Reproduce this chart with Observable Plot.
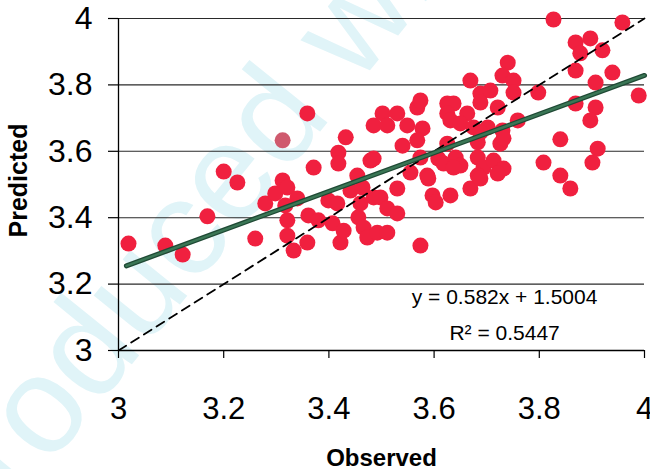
<!DOCTYPE html>
<html><head><meta charset="utf-8">
<script src="https://cdn.jsdelivr.net/npm/d3@7"></script>
<script src="https://cdn.jsdelivr.net/npm/@observablehq/plot@0.6"></script>
<style>
html,body{margin:0;padding:0;background:#fff;}
#wrap{position:relative;width:650px;height:469px;overflow:hidden;background:#fff;}
#wm,#chart{position:absolute;left:0;top:0;}
</style></head><body>
<div id="wrap">
<svg id="wm" width="650" height="469"><text transform="translate(-140,700) rotate(-51)" font-size="138" fill="#e0f4f8" font-family="'Liberation Sans', Arial, sans-serif">Reproduced with permission</text></svg>
<div id="chart"></div>
</div>
<script>
const observed = [3.019,3.089,3.122,3.169,3.200,3.226,3.260,3.279,3.298,3.312,
3.312,3.321,3.321,3.321,3.333,3.340,3.317,3.359,3.359,3.361,
3.371,3.380,3.399,3.407,3.416,3.418,3.418,3.422,3.428,3.432,
3.441,3.454,3.456,3.460,3.464,3.466,3.473,3.479,3.485,3.485,3.492,
3.502,3.530,3.511,3.549,3.568,3.574,3.578,3.540,3.568,3.625,
3.637,3.625,3.663,3.631,3.650,3.675,3.669,3.688,3.707,3.688,
3.721,3.702,3.688,3.730,3.625,3.683,3.726,3.485,3.574,3.608,
3.618,3.641,3.650,3.683,3.694,3.713,3.732,3.637,3.555,3.587,
3.683,3.597,3.603,3.631,3.669,3.688,3.721,3.498,3.511,3.530,
3.511,3.574,3.530,3.589,
3.827,3.958,3.869,3.897,3.920,3.878,3.740,3.730,3.869,3.939,
3.751,3.907,3.751,3.798,3.989,3.869,3.907,3.897,3.759,
3.840,3.911,3.901,3.808,3.840,3.859,3.732];
const predicted = [3.322,3.316,3.289,3.404,3.539,3.506,3.337,3.443,3.473,3.512,
3.633,3.491,3.392,3.346,3.301,3.458,3.437,3.714,3.325,3.407,
3.551,3.392,3.452,3.383,3.443,3.596,3.563,3.325,3.361,3.642,
3.482,3.527,3.401,3.443,3.491,3.370,3.340,3.572,3.678,3.461,3.355,
3.714,3.714,3.678,3.678,3.732,3.753,3.669,3.617,3.633,3.744,
3.744,3.714,3.714,3.693,3.684,3.672,3.813,3.774,3.783,3.747,
3.732,3.672,3.657,3.663,3.623,3.627,3.623,3.578,3.581,3.578,
3.563,3.581,3.557,3.581,3.551,3.572,3.548,3.551,3.536,3.527,
3.527,3.467,3.446,3.467,3.488,3.518,3.533,3.461,3.428,3.413,
3.355,3.316,3.488,3.518,
3.997,3.988,3.928,3.940,3.904,3.895,3.867,3.828,3.843,3.837,
3.813,3.807,3.777,3.777,3.768,3.744,3.732,3.693,3.693,
3.636,3.608,3.566,3.566,3.527,3.488,3.639];
const mutedIndex = [10];
const axisTicks = [3, 3.2, 3.4, 3.6, 3.8, 4];
const tickLabels = ["3", "3.2", "3.4", "3.6", "3.8", "4"];
const gridTicks = [3.2, 3.4, 3.6, 3.8, 4];
const identityEnds = [3, 4];
const fitSlope = 0.582;
const fitIntercept = 1.5004;
const fitRange = [3.015, 4.0];
const equationText = ["y = 0.582x + 1.5004"];
const r2Text = ["R² = 0.5447"];
const xTitle = ["Observed"];
const yTitle = ["Predicted"];

const pts = observed.map((x, i) => ({x, y: predicted[i], muted: mutedIndex.includes(i)}));
const fit = fitRange.map(x => ({x, y: fitSlope * x + fitIntercept}));
const ident = identityEnds.map(v => ({x: v, y: v}));
const fmt = d => tickLabels[axisTicks.indexOf(d)];
const FONT = "'Liberation Sans', Arial, Helvetica, sans-serif";

const chart = Plot.plot({
  width: 650, height: 469,
  marginLeft: 118, marginRight: 6, marginTop: 18, marginBottom: 119,
  style: {fontFamily: FONT, color: "#000", background: "transparent", overflow: "visible"},
  x: {domain: [3, 4]},
  y: {domain: [3, 4]},
  marks: [
    Plot.gridY(gridTicks, {stroke: "#2a2a2a", strokeOpacity: 1, strokeWidth: 1.1}),
    Plot.axisY(axisTicks, {tickSize: 10, tickPadding: 16, fontSize: 32, tickFormat: fmt, label: null, strokeWidth: 1.2}),
    Plot.axisX(axisTicks, {tickSize: 8, tickPadding: 38, fontSize: 31, tickFormat: fmt, label: null, strokeWidth: 1.2}),
    Plot.ruleX([3], {stroke: "#000", strokeWidth: 1.3}),
    Plot.ruleY([3], {stroke: "#000", strokeWidth: 1.3}),
    Plot.dot(pts.filter(d => !d.muted), {x: "x", y: "y", r: 8, fill: "#f0203f", stroke: null}),
    Plot.dot(pts.filter(d => d.muted), {x: "x", y: "y", r: 8, fill: "#cf5a6e", stroke: null}),
    Plot.line(ident, {x: "x", y: "y", stroke: "#000", strokeWidth: 1.8, strokeDasharray: "9,6"}),
    Plot.line(fit, {x: "x", y: "y", stroke: "#1f4a35", strokeWidth: 5, strokeLinecap: "round"}),
    Plot.line(fit, {x: "x", y: "y", stroke: "#3a7655", strokeWidth: 2.4, strokeLinecap: "round"}),
    Plot.text(equationText, {x: 3.734, y: 3.139, lineAnchor: "bottom", fontSize: 21, fill: "#000"}),
    Plot.text(r2Text, {x: 3.734, y: 3.033, lineAnchor: "bottom", fontSize: 21, fill: "#000"}),
    Plot.text(xTitle, {frameAnchor: "bottom", dy: 115, lineAnchor: "bottom", fontWeight: "bold", fontSize: 24, fill: "#000"}),
    Plot.text(yTitle, {x: 2.81, y: 3.512, rotate: -90, textAnchor: "middle", lineAnchor: "middle", fontWeight: "bold", fontSize: 25, fill: "#000"})
  ]
});
document.getElementById("chart").appendChild(chart);
</script>
</body></html>
